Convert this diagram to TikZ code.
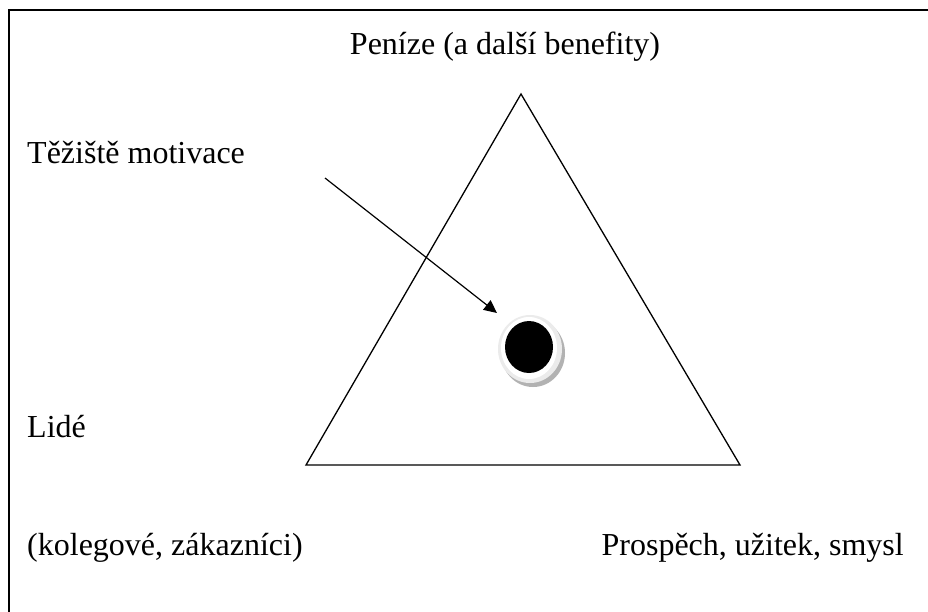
\documentclass[tikz,border=0pt]{standalone}
\usepackage{fontspec}
\setmainfont{Liberation Serif}
\usetikzlibrary{arrows.meta}
\begin{document}
\begin{tikzpicture}[x=1pt,y=-1pt,
  lbl/.style={font=\fontsize{32}{37}\selectfont, inner sep=0pt, anchor=base west},
  edge/.style={line width=1.3pt, line join=miter}]
\useasboundingbox (0,0) rectangle (928,611);
\fill[white] (0,0) rectangle (928,611);
% frame (top and left visible)
\draw[line width=2pt] (9,650) -- (9,10) -- (940,10);
% labels
\node[lbl, anchor=base] (penize) at (505,54) {Peníze (a další benefity)};
\node[lbl] (teziste) at (27,163) {Těžiště motivace};
\node[lbl] (lide) at (27,437) {Lidé};
\node[lbl] (kolegove) at (27,555) {(kolegové, zákazníci)};
\node[lbl, anchor=base east] (prospech) at (904,555) {Prospěch, užitek, smysl};
% triangle
\coordinate (top) at (521,94);
\coordinate (bl) at (306,465);
\coordinate (br) at (740,465);
\draw[edge] (top) -- (bl) -- (br) -- cycle;
% centre of gravity
\fill[black!30] (533,353) ellipse [x radius=32, y radius=34];
\fill[black!8] (530,349) ellipse [x radius=32, y radius=34];
\fill[white] (529,348) ellipse [x radius=28, y radius=31];
\fill[black] (529,347) ellipse [x radius=24, y radius=26] node (dot) {};
% arrow
\coordinate (astart) at (325,178);
\coordinate (aend) at (497,313);
\draw[line width=1.2pt, -{Triangle[length=13pt,width=12pt]}] (astart) -- (aend);
\end{tikzpicture}
\end{document}
